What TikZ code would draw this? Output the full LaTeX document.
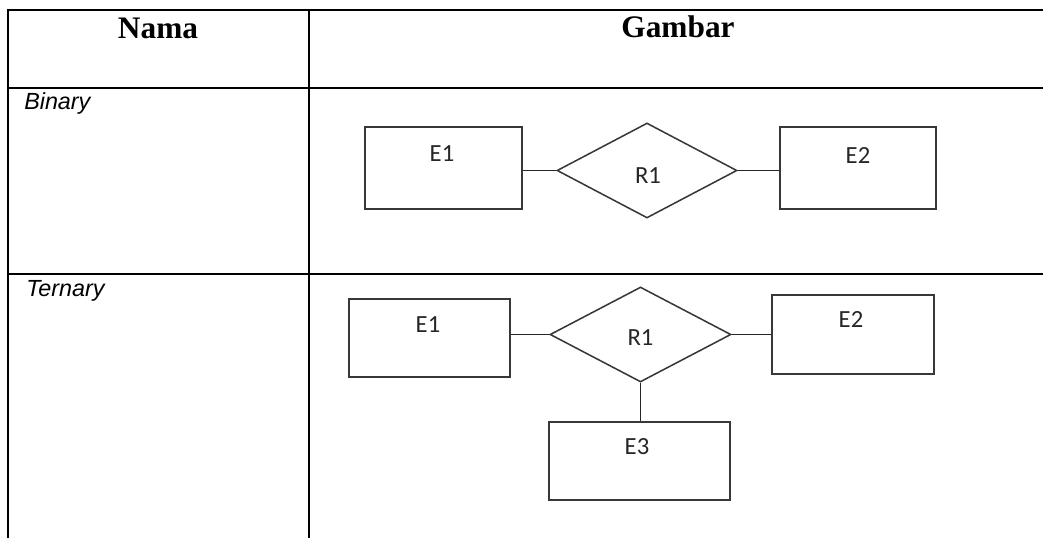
\documentclass[tikz,border=0pt]{standalone}
\usepackage{fontspec}
\setmainfont{Liberation Serif}
\newfontfamily\arialfont{Liberation Sans}
\newfontfamily\calibrifont{Carlito}
\usetikzlibrary{shapes.geometric,calc}

\def\tableRight{1043}
\def\tableBottom{538}

\tikzset{
    tableline/.style = {line width=1.6pt, black},
    entity/.style = {draw=black!78, line width=1.15pt, rectangle, inner sep=0pt},
    relation/.style = {draw=black!78, line width=1.15pt, diamond, inner sep=0pt,
        minimum width=135pt, minimum height=71.25pt},
    link/.style = {draw=black!85, line width=1.2pt},
    headtext/.style = {font=\bfseries\fontsize{23.5}{26}\selectfont, inner sep=0pt},
    nametext/.style = {font=\arialfont\itshape\fontsize{17.5}{20}\selectfont, inner sep=0pt},
    ertext/.style = {font=\calibrifont\fontsize{18.5}{20}\selectfont, text=black!85, inner sep=0pt},
}

\begin{document}
\begin{tikzpicture}[x=0.75pt, y=-0.75pt]
            \useasboundingbox (0,0) rectangle (\tableRight,\tableBottom);
            % table grid
            \foreach \y in {10,88,274} {
                \draw [tableline] (7.5,\y) -- (\tableRight,\y);
            }
            \foreach \x in {8,309} {
                \draw [tableline] (\x,9.3) -- (\x,\tableBottom);
            }
            % headers
            \node [headtext, anchor=base] (hNama) at (158,39) {Nama};
            \node [headtext, anchor=base] (hGambar) at (678,38) {Gambar};
            \node [nametext, anchor=base west] (nBinary) at (24,110) {Binary};
            \node [nametext, anchor=base west] (nTernary) at (26,296.5) {Ternary};

            % binary
            \node [entity, minimum width=117.75pt, minimum height=61.5pt] (bE1) at (443.5,168) {};
            \node [entity, minimum width=117pt, minimum height=61.5pt] (bE2) at (858,168) {};
            \node [relation] (bR1) at (647,170.5) {};
            \node [ertext] (tbE1) at ($(bE1.north)+(-1.5,27)$) {E1};
            \node [ertext] (tbE2) at ($(bE2.north)+(0,29)$) {E2};
            \node [ertext] (tbR1) at ($(bR1.center)+(1,5)$) {R1};
            \draw [link] (bR1.west) -- (bR1.west -| bE1.east);
            \draw [link] (bR1.east) -- (bR1.east -| bE2.west);

            % ternary
            \node [entity, minimum width=120.75pt, minimum height=58.5pt] (tE1) at (429.5,338) {};
            \node [entity, minimum width=121.5pt, minimum height=59.25pt] (tE2) at (853,334.5) {};
            \node [entity, minimum width=135.75pt, minimum height=58.5pt] (tE3) at (639.5,461) {};
            \node [relation, minimum width=135.75pt] (tR1) at (640.5,334.5) {};
            \node [ertext] (ttE1) at ($(tE1.north)+(-1.5,26)$) {E1};
            \node [ertext] (ttE2) at ($(tE2.north)+(-2,25)$) {E2};
            \node [ertext] (ttE3) at ($(tE3.north)+(-2.5,25)$) {E3};
            \node [ertext] (ttR1) at ($(tR1.center)+(0,3)$) {R1};
            \draw [link] (tR1.west) -- (tR1.west -| tE1.east);
            \draw [link] (tR1.east) -- (tR1.east -| tE2.west);
            \draw [link] (tR1.south) -- (tR1.south |- tE3.north);
        \end{tikzpicture}
\end{document}
